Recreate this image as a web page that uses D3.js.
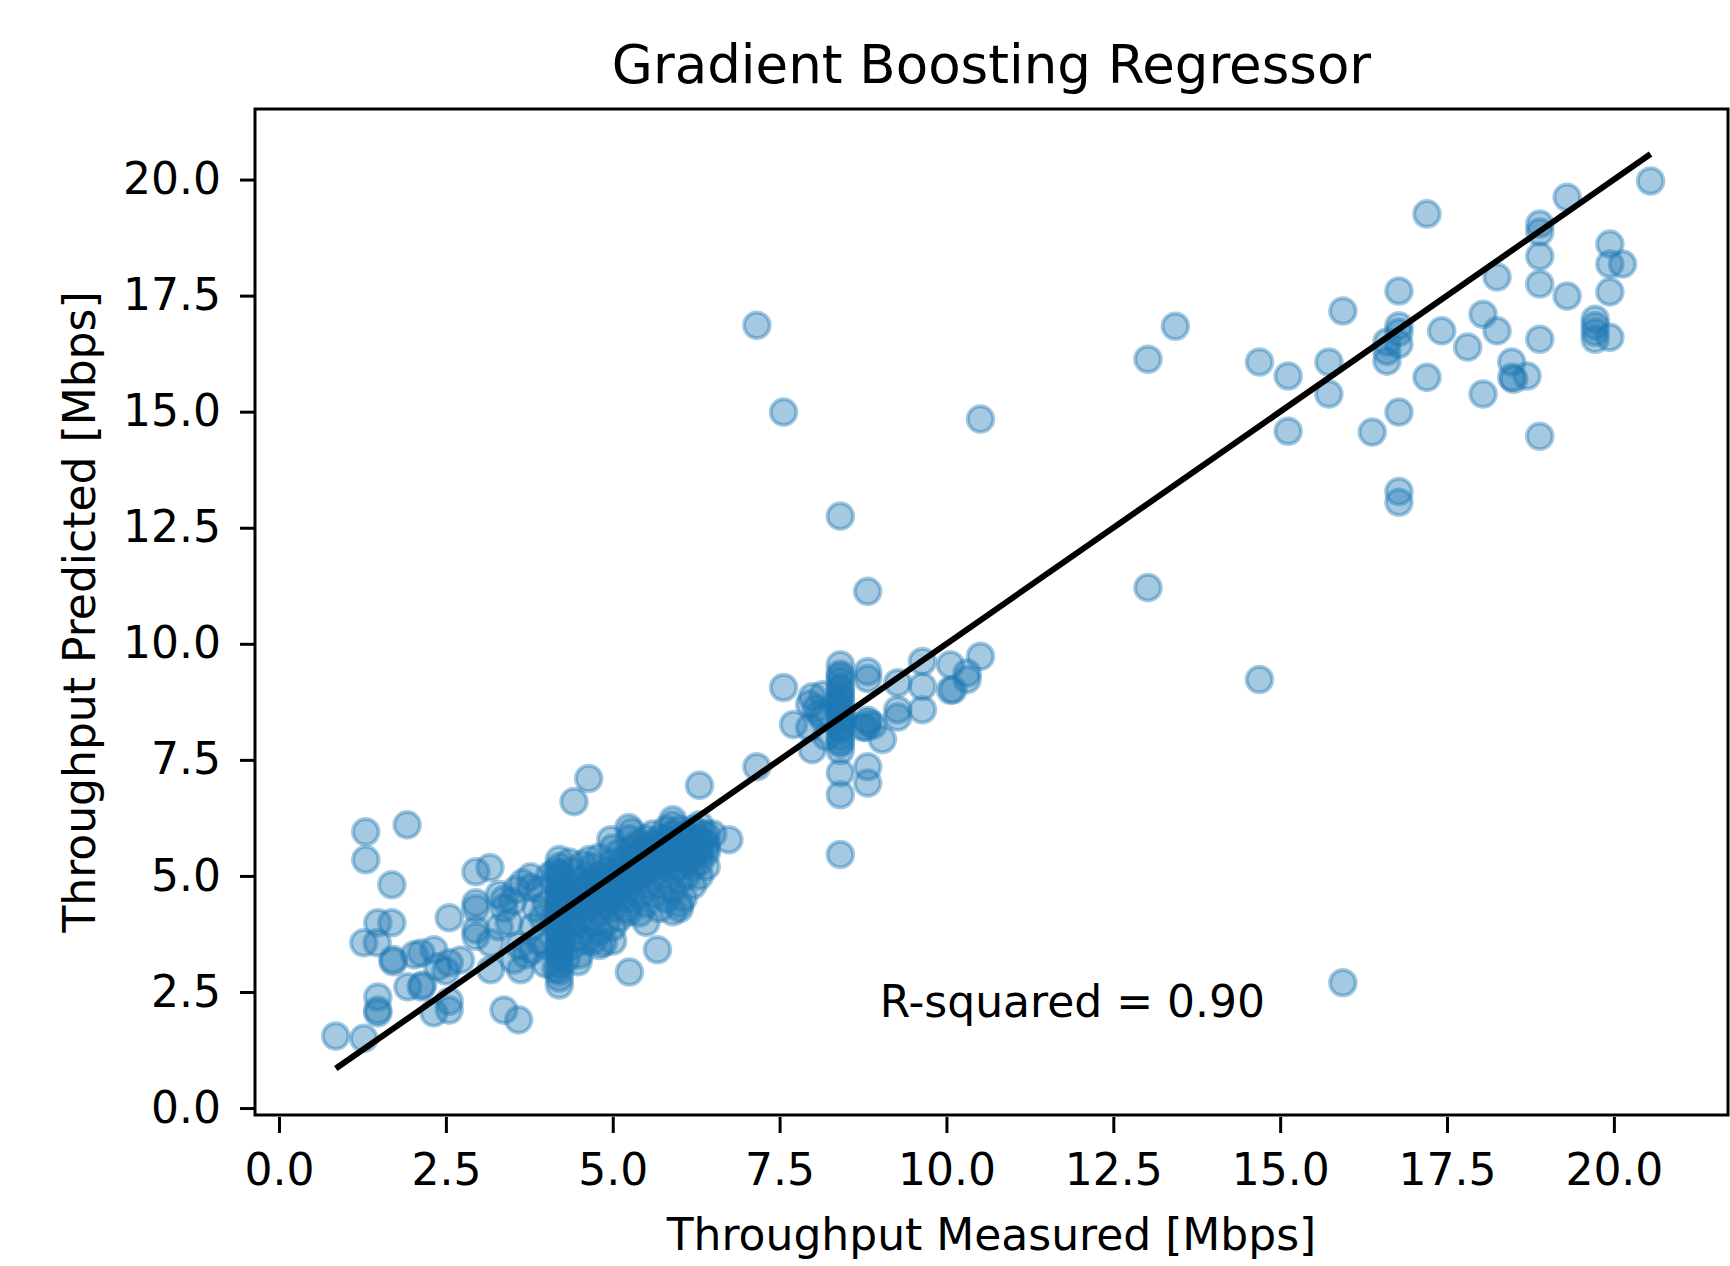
<!DOCTYPE html>
<html>
<head>
<meta charset="utf-8">
<script src="https://cdn.jsdelivr.net/npm/d3@7"></script>
<style>
  body { margin: 0; background: #fff; }
  svg text { font-family: "DejaVu Sans", sans-serif; fill: #000; }
</style>
</head>
<body>
<svg id="chart"></svg>
<script>
// [measured, predicted] pairs
const lowTail = [
  [0.85, 1.55], [1.27, 1.5], [1.3, 5.95], [1.3, 5.35], [1.92, 6.1], [1.69, 4.81], [1.48, 3.99], [1.69, 3.99],
  [1.27, 3.56], [1.47, 3.56], [1.71, 3.15], [1.71, 3.2], [1.48, 2.39], [1.48, 2.11], [1.48, 2.05], [1.93, 2.61],
  [2.03, 3.3], [2.13, 3.34], [2.13, 2.61], [2.15, 2.65], [2.32, 3.41], [2.32, 2.05], [2.55, 2.11], [2.55, 2.3],
  [2.38, 3.04], [2.55, 3.13], [2.72, 3.19], [2.5, 2.95], [2.55, 4.1], [2.95, 5.09], [3.16, 5.18], [2.95, 4.42],
  [2.95, 4.3], [2.95, 3.84], [2.95, 3.7], [3.17, 3.56], [3.17, 2.98], [3.37, 4.49], [3.37, 4.3], [3.55, 4.7],
  [3.77, 4.98], [3.77, 4.75], [3.52, 3.19], [3.62, 2.98], [3.37, 2.11], [3.59, 1.9], [3.3, 4.6], [3.5, 4.45],
  [3.65, 4.85], [3.45, 4.0], [3.3, 3.9], [3.6, 3.5], [3.7, 3.3]
];

const column42 = [
  [4.2, 2.65], [4.2, 2.8], [4.2, 2.95], [4.2, 3.1], [4.2, 3.25], [4.2, 3.4], [4.2, 3.55], [4.2, 3.7],
  [4.2, 3.85], [4.2, 4.0], [4.2, 4.15], [4.2, 4.3], [4.2, 4.45], [4.2, 4.6], [4.2, 4.75], [4.2, 4.9],
  [4.2, 5.05], [4.2, 5.2], [4.2, 5.35], [4.15, 3.0], [4.25, 3.6], [4.15, 4.2], [4.25, 4.8], [4.15, 5.1]
];

const denseBand = [
  [3.8, 3.4], [3.8, 3.9], [3.85, 4.3], [3.9, 3.6], [3.95, 4.1], [3.9, 4.7], [4.0, 3.1], [4.0, 3.5], [4.0, 4.4], [4.05, 5.0],
  [4.4, 3.5], [4.4, 3.9], [4.4, 4.3], [4.4, 4.7], [4.4, 5.1], [4.35, 5.3],
  [4.5, 3.7], [4.5, 4.1], [4.5, 4.5], [4.5, 4.9], [4.55, 5.25],
  [4.6, 3.9], [4.6, 4.3], [4.6, 4.6], [4.6, 5.0], [4.65, 5.35],
  [4.7, 3.6], [4.7, 4.0], [4.7, 4.4], [4.7, 4.8], [4.7, 5.2],
  [4.8, 3.8], [4.8, 4.2], [4.8, 4.6], [4.8, 5.0], [4.8, 5.4],
  [4.9, 4.0], [4.9, 4.4], [4.9, 4.7], [4.9, 5.1],
  [5.0, 3.9], [5.0, 4.3], [5.0, 4.6], [5.0, 4.9], [5.0, 5.3], [5.0, 5.6],
  [5.1, 4.1], [5.1, 4.5], [5.1, 4.8], [5.1, 5.2], [5.1, 5.5],
  [5.2, 4.3], [5.2, 4.7], [5.2, 5.0], [5.2, 5.4], [5.25, 5.8],
  [5.3, 4.5], [5.3, 4.9], [5.3, 5.2], [5.3, 5.6], [5.28, 5.95],
  [5.4, 4.2], [5.4, 4.6], [5.4, 5.0], [5.4, 5.3], [5.4, 5.7],
  [5.5, 4.4], [5.5, 4.8], [5.5, 5.1], [5.5, 5.5], [5.5, 5.8],
  [5.6, 4.6], [5.6, 5.0], [5.6, 5.3], [5.6, 5.6], [5.6, 5.9],
  [5.7, 4.3], [5.7, 4.8], [5.7, 5.2], [5.7, 5.5], [5.7, 5.8],
  [5.8, 4.5], [5.8, 4.9], [5.8, 5.3], [5.8, 5.6], [5.8, 6.0],
  [5.9, 4.7], [5.9, 5.1], [5.9, 5.4], [5.9, 5.7], [5.9, 6.1],
  [6.0, 4.4], [6.0, 4.9], [6.0, 5.2], [6.0, 5.5], [6.0, 5.8], [6.0, 6.0],
  [6.1, 5.0], [6.1, 5.3], [6.1, 5.6], [6.1, 5.9],
  [6.2, 4.8], [6.2, 5.2], [6.2, 5.5], [6.2, 5.7], [6.2, 6.0],
  [6.3, 5.0], [6.3, 5.3], [6.3, 5.6], [6.3, 5.8], [6.3, 6.1],
  [6.4, 5.2], [6.4, 5.5], [6.4, 5.7], [6.4, 5.9]
];

// the darkest part of the band, where many points sit on top of each other
const denseCore = [
  [4.2, 3.5], [4.2, 3.8], [4.2, 4.1], [4.2, 4.4], [4.2, 4.7], [4.2, 5.0], [4.2, 3.3], [4.2, 4.0], [4.2, 4.6],
  [4.3, 3.9], [4.3, 4.3], [4.3, 4.6], [4.4, 4.0], [4.4, 4.5], [4.5, 4.3], [4.5, 4.7], [4.6, 4.4], [4.6, 4.8],
  [4.7, 4.5], [4.7, 4.9], [4.8, 4.4], [4.8, 4.8], [4.9, 4.5], [4.9, 4.9], [5.0, 4.5], [5.0, 5.0], [5.1, 4.7],
  [5.1, 5.0], [5.2, 4.8], [5.2, 5.2], [5.3, 5.0], [5.3, 5.4], [5.4, 5.1], [5.4, 5.5], [5.5, 5.2], [5.5, 5.6],
  [5.6, 5.2], [5.6, 5.7], [5.7, 5.4], [5.7, 5.7], [5.8, 5.4], [5.8, 5.8], [5.9, 5.5], [5.9, 5.9], [6.0, 5.4],
  [6.0, 5.7], [6.1, 5.5], [6.1, 5.8], [6.2, 5.4], [6.2, 5.8], [6.3, 5.5], [6.3, 5.7], [6.35, 5.9], [6.4, 5.6]
];

const bandEdges = [
  [4.42, 6.6], [4.64, 7.1], [6.3, 6.95], [6.74, 5.78], [6.5, 5.9], [5.67, 3.41], [5.25, 2.93],
  [4.6, 3.6], [5.0, 3.6], [5.5, 4.0], [6.0, 4.3], [4.3, 3.2], [4.5, 3.3], [4.8, 3.5],
  [4.86, 3.56], [4.48, 3.15], [5.24, 4.23], [5.9, 4.23], [6.06, 4.53],
  [5.24, 6.04], [5.9, 6.21], [4.97, 5.78]
];

const midCluster = [
  [7.56, 9.06], [7.16, 7.35], [7.71, 8.26], [7.99, 8.86], [7.95, 8.7], [7.99, 7.72], [7.95, 8.2], [8.1, 8.5],
  [8.2, 8.0], [8.15, 8.9],
  [8.41, 9.55], [8.41, 9.35], [8.41, 9.2], [8.41, 9.05], [8.41, 8.9], [8.41, 8.75], [8.41, 8.6], [8.41, 8.45],
  [8.41, 8.3], [8.41, 8.15], [8.41, 8.0], [8.41, 7.85], [8.41, 7.7], [8.41, 7.22], [8.41, 6.75], [8.41, 5.46],
  [8.82, 9.4], [8.82, 9.25], [8.82, 8.3], [8.75, 8.2], [8.9, 8.25], [8.82, 7.35], [8.82, 7.0], [9.04, 7.94],
  [9.27, 9.16], [9.27, 8.58], [9.27, 8.42], [9.64, 9.62], [9.64, 9.08], [9.64, 8.58], [10.06, 9.55], [10.1, 9.01],
  [10.06, 9.0], [10.31, 9.23], [10.31, 9.37], [10.51, 9.73],
  [8.41, 9.0], [8.41, 8.8], [8.41, 8.5], [8.41, 8.2], [8.41, 7.9], [8.35, 8.7], [8.45, 8.4], [8.41, 9.3],
  [8.05, 8.6], [8.15, 8.4], [8.82, 8.35], [8.8, 8.2]
];

const outliers = [
  [7.16, 16.86], [7.56, 14.99], [10.51, 14.84], [8.41, 12.75], [8.82, 11.13], [13.02, 11.21], [14.69, 9.23], [15.94, 2.7]
];

const highCluster = [
  [13.43, 16.84], [13.02, 16.13], [14.69, 16.07], [15.12, 15.77], [15.94, 17.17], [15.73, 16.07], [15.73, 15.38],
  [15.12, 14.58], [16.78, 17.6], [16.78, 16.71], [16.78, 16.85], [16.6, 16.5], [16.6, 16.09], [16.78, 16.45],
  [16.6, 16.3], [16.78, 14.99], [16.38, 14.56], [16.78, 13.28], [16.78, 13.05], [17.2, 19.26], [17.2, 15.74],
  [17.42, 16.74], [17.81, 16.39], [18.04, 17.1], [18.25, 16.74], [18.25, 17.9], [18.04, 15.38], [18.47, 16.07],
  [18.47, 15.74], [18.5, 15.7], [18.7, 15.77], [18.89, 19.04], [18.89, 18.87], [18.89, 18.35], [18.89, 17.75],
  [18.89, 16.56], [18.89, 14.47], [19.3, 19.62], [19.3, 17.49], [19.72, 16.99], [19.72, 16.85], [19.72, 16.71],
  [19.72, 16.56], [19.94, 18.61], [19.94, 18.18], [20.13, 18.18], [19.94, 17.58], [19.94, 16.6], [20.55, 19.97]
];

const xTicks = [0, 2.5, 5, 7.5, 10, 12.5, 15, 17.5, 20];
const yTicks = [0, 2.5, 5, 7.5, 10, 12.5, 15, 17.5, 20];
const titleText = "Gradient Boosting Regressor";
const xLabelText = "Throughput Measured [Mbps]";
const yLabelText = "Throughput Predicted [Mbps]";
const scoreText = "R-squared = 0.90";

const points = [].concat(lowTail, column42, denseBand, denseCore, bandEdges, midCluster, outliers, highCluster);
const measured = points.map(d => d[0]);

const size = { width: 1730, height: 1266 };
const frame = { left: 255, right: 1728, top: 109, bottom: 1115 };
const blue = "#1f77b4";

const svg = d3.select("#chart")
  .attr("width", size.width)
  .attr("height", size.height);

const x = d3.scaleLinear().domain([-0.36, 21.71]).range([frame.left, frame.right]);
const y = d3.scaleLinear().domain([-0.15, 21.52]).range([frame.bottom, frame.top]);
const fmt = d3.format(".1f");

// scatter
svg.append("g")
  .selectAll("circle")
  .data(points)
  .join("circle")
  .attr("cx", d => x(d[0]))
  .attr("cy", d => y(d[1]))
  .attr("r", 12.8)
  .attr("fill", blue)
  .attr("fill-opacity", 0.4)
  .attr("stroke", blue)
  .attr("stroke-opacity", 0.4)
  .attr("stroke-width", 4);

// identity line over the measured range
const [mn, mx] = d3.extent(measured);
svg.append("path")
  .datum([[mn, mn], [mx, mx]])
  .attr("d", d3.line().x(d => x(d[0])).y(d => y(d[1])))
  .attr("fill", "none")
  .attr("stroke", "#000")
  .attr("stroke-width", 6);

// frame
svg.append("rect")
  .attr("x", frame.left)
  .attr("y", frame.top)
  .attr("width", frame.right - frame.left)
  .attr("height", frame.bottom - frame.top)
  .attr("fill", "none")
  .attr("stroke", "#000")
  .attr("stroke-width", 3);

// axes
const yAxis = svg.append("g")
  .attr("transform", `translate(${frame.left},0)`)
  .call(d3.axisLeft(y).tickValues(yTicks).tickFormat(fmt).tickSizeInner(15).tickSizeOuter(0).tickPadding(19));

const xAxis = svg.append("g")
  .attr("transform", `translate(0,${frame.bottom + 2})`)
  .call(d3.axisBottom(x).tickValues(xTicks).tickFormat(fmt).tickSizeInner(16).tickSizeOuter(0).tickPadding(21));

[xAxis, yAxis].forEach(g => {
  g.attr("font-family", null).attr("font-size", null);
  g.select(".domain").remove();
  g.selectAll(".tick line").attr("stroke", "#000").attr("stroke-width", 3);
  g.selectAll(".tick text").attr("font-size", 44).attr("fill", "#000");
});

// texts
svg.append("text")
  .attr("x", (frame.left + frame.right) / 2)
  .attr("y", 83)
  .attr("text-anchor", "middle")
  .attr("font-size", 53)
  .text(titleText);

svg.append("text")
  .attr("x", (frame.left + frame.right) / 2)
  .attr("y", 1250)
  .attr("text-anchor", "middle")
  .attr("font-size", 44)
  .text(xLabelText);

svg.append("text")
  .attr("transform", `translate(95,${(frame.top + frame.bottom) / 2}) rotate(-90)`)
  .attr("text-anchor", "middle")
  .attr("font-size", 44)
  .text(yLabelText);

svg.append("text")
  .attr("x", x(9))
  .attr("y", y(1.97))
  .attr("font-size", 44)
  .text(scoreText);
</script>
</body>
</html>
